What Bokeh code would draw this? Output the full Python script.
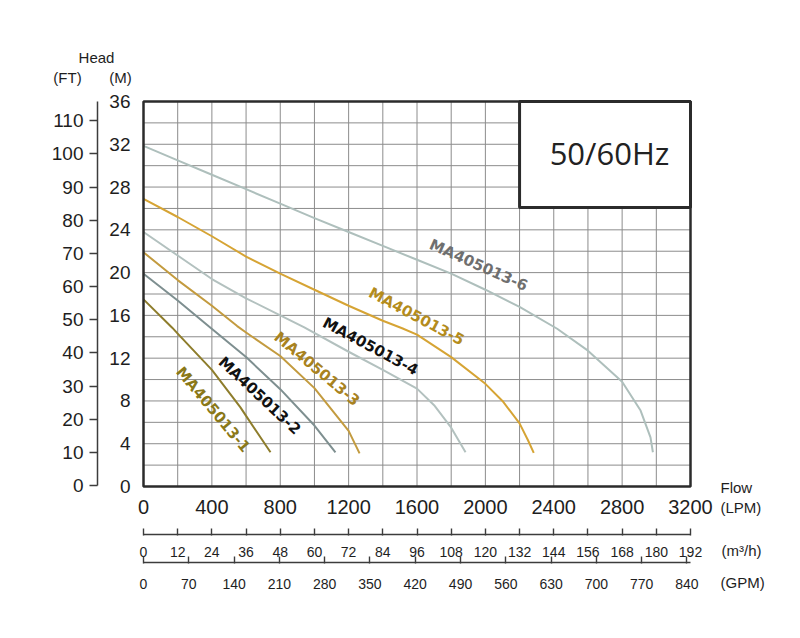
from bokeh.plotting import figure
from bokeh.models import LinearAxis, Range1d, FixedTicker, ColumnDataSource
from bokeh.core.properties import value
from bokeh.embed import file_html
from bokeh.resources import INLINE
import math

# ---------------- data ----------------
LPM_TICKS = [0, 400, 800, 1200, 1600, 2000, 2400, 2800, 3200]
M3H_TICKS = [0, 12, 24, 36, 48, 60, 72, 84, 96, 108, 120, 132, 144, 156, 168, 180, 192]
GPM_TICKS = [0, 70, 140, 210, 280, 350, 420, 490, 560, 630, 700, 770, 840]
M_TICKS = [0, 4, 8, 12, 16, 20, 24, 28, 32, 36]
FT_TICKS = [0, 10, 20, 30, 40, 50, 60, 70, 80, 90, 100, 110]
GRID_FLOW = list(range(0, 3201, 200))
GRID_HEAD = list(range(0, 37, 2))
LPM_PER_GPM = 3.785
LPM_PER_M3H = 1000.0 / 60.0

models = ["MA405013-1", "MA405013-2", "MA405013-3", "MA405013-4", "MA405013-5", "MA405013-6"]

flow_1 = [0, 168, 200, 400, 567, 600, 743]
head_1 = [17.5, 14.85, 14.3, 10.9, 7.4, 6.6, 3.2]

flow_2 = [0, 200, 392, 600, 800, 1000, 1123]
head_2 = [19.9, 17.4, 14.85, 12.1, 9.1, 5.7, 3.2]

flow_3 = [0, 200, 400, 548, 600, 800, 1000, 1200, 1264]
head_3 = [21.9, 19.3, 16.9, 15.0, 14.4, 12.2, 9.2, 5.2, 3.1]

flow_4 = [0, 200, 400, 600, 800, 938, 1200, 1400, 1600, 1700, 1800, 1884]
head_4 = [23.8, 21.6, 19.4, 17.6, 16.0, 14.9, 12.6, 10.9, 9.15, 7.6, 5.5, 3.2]

flow_5 = [0, 200, 400, 600, 800, 1000, 1200, 1400, 1513, 1600, 1800, 2000, 2100, 2200, 2250, 2283]
head_5 = [26.9, 25.2, 23.4, 21.5, 19.9, 18.4, 16.9, 15.5, 14.8, 14.2, 12.1, 9.6, 8.0, 5.9, 4.3, 3.15]

flow_6 = [0, 200, 400, 600, 800, 1000, 1200, 1400, 1600, 1800, 2000, 2200, 2420, 2600, 2800, 2908, 2966, 2980]
head_6 = [31.85, 30.5, 29.15, 27.8, 26.45, 25.1, 23.8, 22.5, 21.2, 19.9, 18.4, 16.8, 14.75, 12.7, 9.8, 7.1, 4.6, 3.2]

flows = [flow_1, flow_2, flow_3, flow_4, flow_5, flow_6]
heads = [head_1, head_2, head_3, head_4, head_5, head_6]

# ---------------- layout (page pixels) ----------------
W, H = 792, 630
CH_LEFT, CH_RIGHT, CH_TOP, CH_BOTTOM = 143, 690, 101, 486   # chart area in px
PX_PER_LPM = (CH_RIGHT - CH_LEFT) / 3200.0
PX_PER_M = (CH_BOTTOM - CH_TOP) / 36.0
FT_ZERO_PX, PX_PER_FT = 485, 3.316


def dx(px):
    return (px - CH_LEFT) / PX_PER_LPM


def dy(py):
    return (CH_BOTTOM - py) / PX_PER_M


# ---------------- styles ----------------
line_colors = ["#8e7d2c", "#7e8f90", "#c39b3f", "#b3c1bf", "#d6a434", "#aebfbc"]
label_colors = ["#8a7818", "#111111", "#a88220", "#111111", "#b48c1c", "#6f6f6f"]
label_x = [407, 679, 1014, 1328, 1597, 1960]
label_y = [7.2, 8.5, 11.0, 13.1, 15.9, 20.7]
label_deg = [-50, -43, -40, -28, -28, -24]

AXIS_FONT = "Liberation Sans"
INK = "#1e1e1e"
AX_LINE = "#3c3c3c"

p = figure(width=W, height=H,
           x_range=Range1d(dx(0), dx(W)), y_range=Range1d(dy(H), dy(0)),
           output_backend="svg", toolbar_location=None, min_border=0)
p.title.visible = False
p.background_fill_color = "white"
p.border_fill_color = "white"
p.outline_line_color = None
p.grid.visible = False

# grid (every 200 LPM and 2 m)
p.segment(x0=GRID_FLOW, y0=[0] * len(GRID_FLOW), x1=GRID_FLOW, y1=[36] * len(GRID_FLOW),
          line_color="#8c8c8c", line_width=1)
p.segment(x0=[0] * len(GRID_HEAD), y0=GRID_HEAD, x1=[3200] * len(GRID_HEAD), y1=GRID_HEAD,
          line_color="#8c8c8c", line_width=1)

# LPM axis (labels only) at head = 0
xa = p.xaxis[0]
xa.fixed_location = 0
xa.ticker = FixedTicker(ticks=LPM_TICKS)
xa.axis_line_color = None
xa.major_tick_line_color = None
xa.minor_tick_line_color = None
xa.major_tick_out = 0
xa.major_tick_in = 0
xa.major_label_standoff = 13
xa.major_label_text_font = AXIS_FONT
xa.major_label_text_font_size = "20px"
xa.major_label_text_color = INK

# M axis (labels only) at flow = 0
ya = p.yaxis[0]
ya.fixed_location = 0
ya.ticker = FixedTicker(ticks=M_TICKS)
ya.axis_line_color = None
ya.major_tick_line_color = None
ya.minor_tick_line_color = None
ya.major_tick_out = 0
ya.major_tick_in = 0
ya.major_label_standoff = 13
ya.major_label_text_font = AXIS_FONT
ya.major_label_text_font_size = "19px"
ya.major_label_text_color = INK

# FT axis
p.extra_y_ranges = {"ft": Range1d(-(H - FT_ZERO_PX) / PX_PER_FT, FT_ZERO_PX / PX_PER_FT)}
fa = LinearAxis(y_range_name="ft", ticker=FixedTicker(ticks=FT_TICKS), fixed_location=dx(97),
                bounds=(0, (FT_ZERO_PX - CH_TOP) / PX_PER_FT))
fa.axis_line_color = AX_LINE
fa.axis_line_width = 1.5
fa.major_tick_line_color = AX_LINE
fa.major_tick_line_width = 1.5
fa.major_tick_out = 8
fa.major_tick_in = 0
fa.minor_tick_line_color = None
fa.major_label_standoff = 6
fa.major_label_text_font = AXIS_FONT
fa.major_label_text_font_size = "19px"
fa.major_label_text_color = INK
p.add_layout(fa, "left")

# m3/h and GPM axes
p.extra_x_ranges = {"m3h": Range1d(dx(0) / LPM_PER_M3H, dx(W) / LPM_PER_M3H),
                    "gpm": Range1d(dx(0) / LPM_PER_GPM, dx(W) / LPM_PER_GPM)}
for name, ticks, conv, loc_px, stand in (("m3h", M3H_TICKS, LPM_PER_M3H, 534, 11),
                                         ("gpm", GPM_TICKS, LPM_PER_GPM, 562, 15)):
    ax = LinearAxis(x_range_name=name, ticker=FixedTicker(ticks=ticks),
                    fixed_location=dy(loc_px), bounds=(0, 3200 / conv))
    ax.axis_line_color = AX_LINE
    ax.axis_line_width = 1.5
    ax.major_tick_line_color = AX_LINE
    ax.major_tick_line_width = 1.4
    ax.major_tick_in = 6
    ax.major_tick_out = 1
    ax.minor_tick_line_color = None
    ax.major_label_standoff = stand
    ax.major_label_text_font = AXIS_FONT
    ax.major_label_text_font_size = "14px"
    ax.major_label_text_color = INK
    p.add_layout(ax, "below")

# curves
for f, h, c in zip(flows, heads, line_colors):
    p.line(f, h, line_color=c, line_width=2, line_join="round")

# chart border
p.quad(left=[0], right=[3200], bottom=[0], top=[36], fill_color=None,
       line_color="#2b2b2b", line_width=2.5)

# curve labels
src = ColumnDataSource(dict(x=label_x, y=label_y, text=models, color=label_colors,
                            angle=[math.radians(d) for d in label_deg]))
p.text(x="x", y="y", text="text", angle="angle", text_color="color", source=src,
       text_font=value("DejaVu Sans"), text_font_style="bold", text_font_size="15px",
       text_align="center", text_baseline="middle")

# frequency box
BOX_FLOW = (2200, 3200)
BOX_HEAD = (26.1, 36)
p.quad(left=[BOX_FLOW[0]], right=[BOX_FLOW[1]], bottom=[BOX_HEAD[0]], top=[BOX_HEAD[1]],
       fill_color="white", line_color="#2b2b2b", line_width=3)
p.text(x=[2726], y=[31.2], text=["50/60Hz"], text_font=value("Open Sans"),
       text_font_size="31px", text_color="#222222", text_align="center", text_baseline="middle")

# captions
cap_text = ["Head", "(FT)", "(M)", "Flow", "(LPM)", "(m³/h)", "(GPM)"]
cap_px = [(96, 57), (67, 77), (120, 77), (720, 487), (720, 507), (721, 550), (720, 582)]
cap_align = ["center", "center", "center", "left", "left", "left", "left"]
cap = ColumnDataSource(dict(x=[dx(a) for a, b in cap_px], y=[dy(b) for a, b in cap_px],
                            text=cap_text, align=cap_align))
p.text(x="x", y="y", text="text", text_align="align", source=cap,
       text_font=value(AXIS_FONT), text_font_size="15px", text_color=INK, text_baseline="middle")

open("out.html", "w").write(file_html(p, INLINE))
